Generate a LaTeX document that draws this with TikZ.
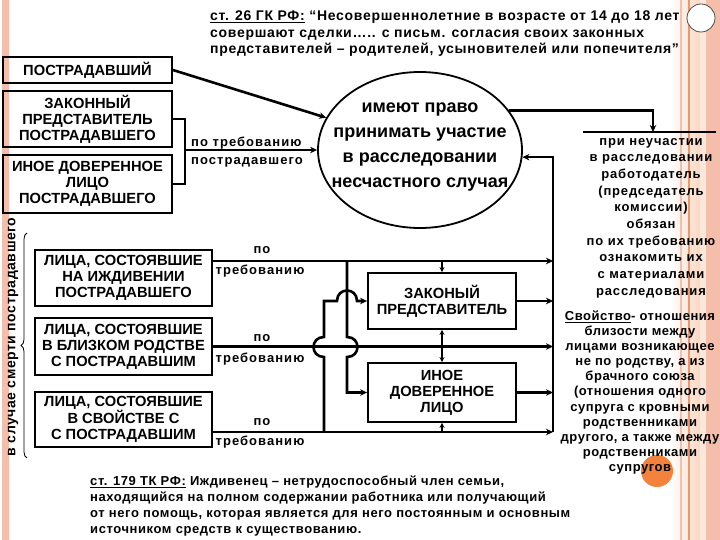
\documentclass[tikz,border=0pt]{standalone}
\usepackage{fontspec}
\setmainfont{Liberation Sans}
\newfontfamily\lsA[LetterSpace=4]{Liberation Sans}
\newfontfamily\lsT[LetterSpace=5]{Liberation Sans}
\newfontfamily\lsB[LetterSpace=6.5]{Liberation Sans}
\newfontfamily\lsC[LetterSpace=8]{Liberation Sans}
\newfontfamily\lsD[LetterSpace=4.5]{Liberation Sans}
\usetikzlibrary{arrows.meta,shapes.geometric,decorations.pathreplacing}
\definecolor{salmon}{RGB}{245,190,170}
\definecolor{peach}{RGB}{250,215,195}
\definecolor{stripe}{RGB}{238,150,110}
\definecolor{dotor}{RGB}{242,130,60}
\begin{document}
\begin{tikzpicture}[x=1pt,y=-1pt,
  box/.style={draw,line width=1.8pt,align=center,inner sep=0pt,font=\fontsize{14.7}{16}\selectfont\bfseries},
  conn/.style={line width=2.6pt},
  thin conn/.style={line width=1.6pt},
  arr/.style={-{Stealth[length=7pt,width=6.5pt]}},
  sarr/.style={-{Stealth[length=5pt,width=5pt]}},
  arrs/.style={{Stealth[length=7pt,width=6.5pt]}-},
  lbl/.style={font=\lsC\fontsize{13}{15}\selectfont\bfseries,inner sep=0pt},
]
\useasboundingbox (0,0) rectangle (720,540);
\fill[white] (0,0) rectangle (720,540);
% decorative stripes
\fill[salmon] (2,0) rectangle (9,540);
\shade[left color=white,right color=peach] (670,0) rectangle (700,540);
\draw[stripe!60,line width=1.2pt] (681,0) -- (681,540);
\draw[stripe,line width=2pt] (689,0) -- (689,540);
\fill[peach!60] (700,0) rectangle (706,540);
\fill[salmon] (706,0) rectangle (720,540);
\draw[black!70,line width=0.8pt,fill=white] (701,18) circle[radius=14pt];
\fill[dotor] (657,471) circle[radius=16pt];

% top quote
\node[anchor=west,align=left,inner sep=0pt,font=\lsT\fontsize{14}{16.5}\selectfont\bfseries] (quote) at (210,34)
 {\underline{ст. 26 ГК РФ:} “Несовершеннолетние в возрасте от 14 до 18 лет\\
  совершают сделки….. с письм. согласия своих законных\\
  представителей – родителей, усыновителей или попечителя”};

% left upper boxes
\node[box,minimum width=169pt,minimum height=26pt] (p0) at (87.5,70) {ПОСТРАДАВШИЙ};
\node[box,minimum width=169pt,minimum height=56pt] (z1) at (87.5,119) {ЗАКОННЫЙ\\ПРЕДСТАВИТЕЛЬ\\ПОСТРАДАВШЕГО};
\node[box,minimum width=169pt,minimum height=58pt] (z2) at (87.5,184) {ИНОЕ ДОВЕРЕННОЕ\\ЛИЦО\\ПОСТРАДАВШЕГО};

% ellipse
\node[draw,ellipse,line width=1.8pt,minimum width=204pt,minimum height=156pt,inner sep=0pt] (el) at (420,150) {};
\node[align=center,inner sep=0pt,font=\fontsize{18}{25}\selectfont\bfseries] (elt) at (420,147)
 {имеют право\\принимать участие\\в расследовании\\несчастного случая};

% bracket and arrows into ellipse
\coordinate (br) at (185,150);
\draw[conn] (z1.east) -- (z1.east -| br) -- (z2.east -| br) -- (z2.east);
\draw[conn,arr] (br) -- (el.west);
\draw[conn,arr] (p0.east) -- (el.161);
\node[lbl,anchor=west] (q1) at (191,143) {по требованию};
\node[lbl,anchor=west] (q2) at (191,162) {пострадавшего};

% right top
\coordinate (nb) at (653,132);
\coordinate (hl) at (583,132);
\coordinate (hr) at (716,132);
\draw[conn,arr] (el.24) -| (nb);
\draw[conn] (hl) -- (hr);
\node[align=center,inner sep=0pt,font=\lsB\fontsize{13}{16.7}\selectfont\bfseries] (rt1) at (651,218)
 {при неучастии\\в расследовании\\работодатель\\(председатель\\комиссии)\\обязан\\по их требованию\\ознакомить их\\с материалами\\расследования};
\node[align=center,inner sep=0pt,font=\lsA\fontsize{13}{15.1}\selectfont\bfseries] (rt2) at (640,392.5)
 {\underline{Свойство}- отношения\\близости между\\лицами возникающее\\не по родству, а из\\брачного союза\\(отношения одного\\супруга с кровными\\родственниками\\другого, а также между\\родственниками\\супругов};

% lower left boxes
\node[box,minimum width=177pt,minimum height=56pt] (L1) at (123.5,278) {ЛИЦА, СОСТОЯВШИЕ\\НА ИЖДИВЕНИИ\\ПОСТРАДАВШЕГО};
\node[box,minimum width=177pt,minimum height=57pt] (L2) at (123.5,346.5) {ЛИЦА, СОСТОЯВШИЕ\\В БЛИЗКОМ РОДСТВЕ\\С ПОСТРАДАВШИМ};
\node[box,minimum width=177pt,minimum height=55pt] (L3) at (123.5,419.5) {ЛИЦА, СОСТОЯВШИЕ\\В СВОЙСТВЕ С\\С ПОСТРАДАВШИМ};

% right boxes
\node[box,minimum width=148pt,minimum height=56pt] (ZR) at (442,301) {ЗАКОНЫЙ\\ПРЕДСТАВИТЕЛЬ};
\node[box,minimum width=148pt,minimum height=59pt] (IR) at (442,392.5) {ИНОЕ\\ДОВЕРЕННОЕ\\ЛИЦО};

% bus
\coordinate (bus) at (553,432);
\coordinate (j1) at (553,261);
\coordinate (j3) at (553,432);
\draw[conn,arrs] (el.-4) -| (bus);
\draw[conn,arr] (L1.east |- j1) -- (j1);
\draw[conn,arr] (L2.east) -- (L2.east -| bus);
\draw[conn,arr] (L3.east |- j3) -- (j3);
\draw[conn,arr] (ZR.east) -- (ZR.east -| bus);
\draw[conn,arr] (IR.east) -- (IR.east -| bus);
\draw[thin conn,sarr] (ZR.north |- j1) -- (ZR.north);
\draw[thin conn,{Stealth[length=5pt,width=5pt]}-{Stealth[length=5pt,width=5pt]}] (ZR.south) -- (IR.north);
\draw[thin conn,sarr] (IR.south |- j3) -- (IR.south);

% crossing paths with jumps
\coordinate (ja) at (347,261);
\coordinate (jb) at (324,432);
\draw[conn,arr] (ja) -- (347,337) .. controls +(14,0) and +(14,0) .. (347,357) |- (IR.west);
\draw[conn,arr] (jb) -- (324,357) .. controls +(-14,0) and +(-14,0) .. (324,337) |- (337,301)
   .. controls +(0,-14) and +(0,-14) .. (357,301) -- (ZR.west);

% labels po trebovaniyu
\node[lbl] (a1) at (262,250) {по};
\node[lbl] (b1) at (260,271) {требованию};
\node[lbl] (a2) at (262,338) {по};
\node[lbl] (b2) at (260,359) {требованию};
\node[lbl] (a3) at (262,422) {по};
\node[lbl] (b3) at (260,442) {требованию};

% brace and rotated label
\coordinate (bb) at (27,458);
\coordinate (bt) at (27,233);
\draw[line width=0.8pt,decorate,decoration={brace,amplitude=6pt}] (bb) -- (bt);
\node[rotate=90,inner sep=0pt,font=\lsA\fontsize{14}{15}\selectfont\bfseries] (rot) at (13,337) {в случае смерти пострадавшего};

% bottom text
\node[anchor=west,align=left,inner sep=0pt,font=\lsD\fontsize{13}{16}\selectfont\bfseries] (art) at (90,506)
 {\underline{ст. 179 ТК РФ:} Иждивенец – нетрудоспособный член семьи,\\
  находящийся на полном содержании работника или получающий\\
  от него помощь, которая является для него постоянным и основным\\
  источником средств к существованию.};
\end{tikzpicture}
\end{document}
